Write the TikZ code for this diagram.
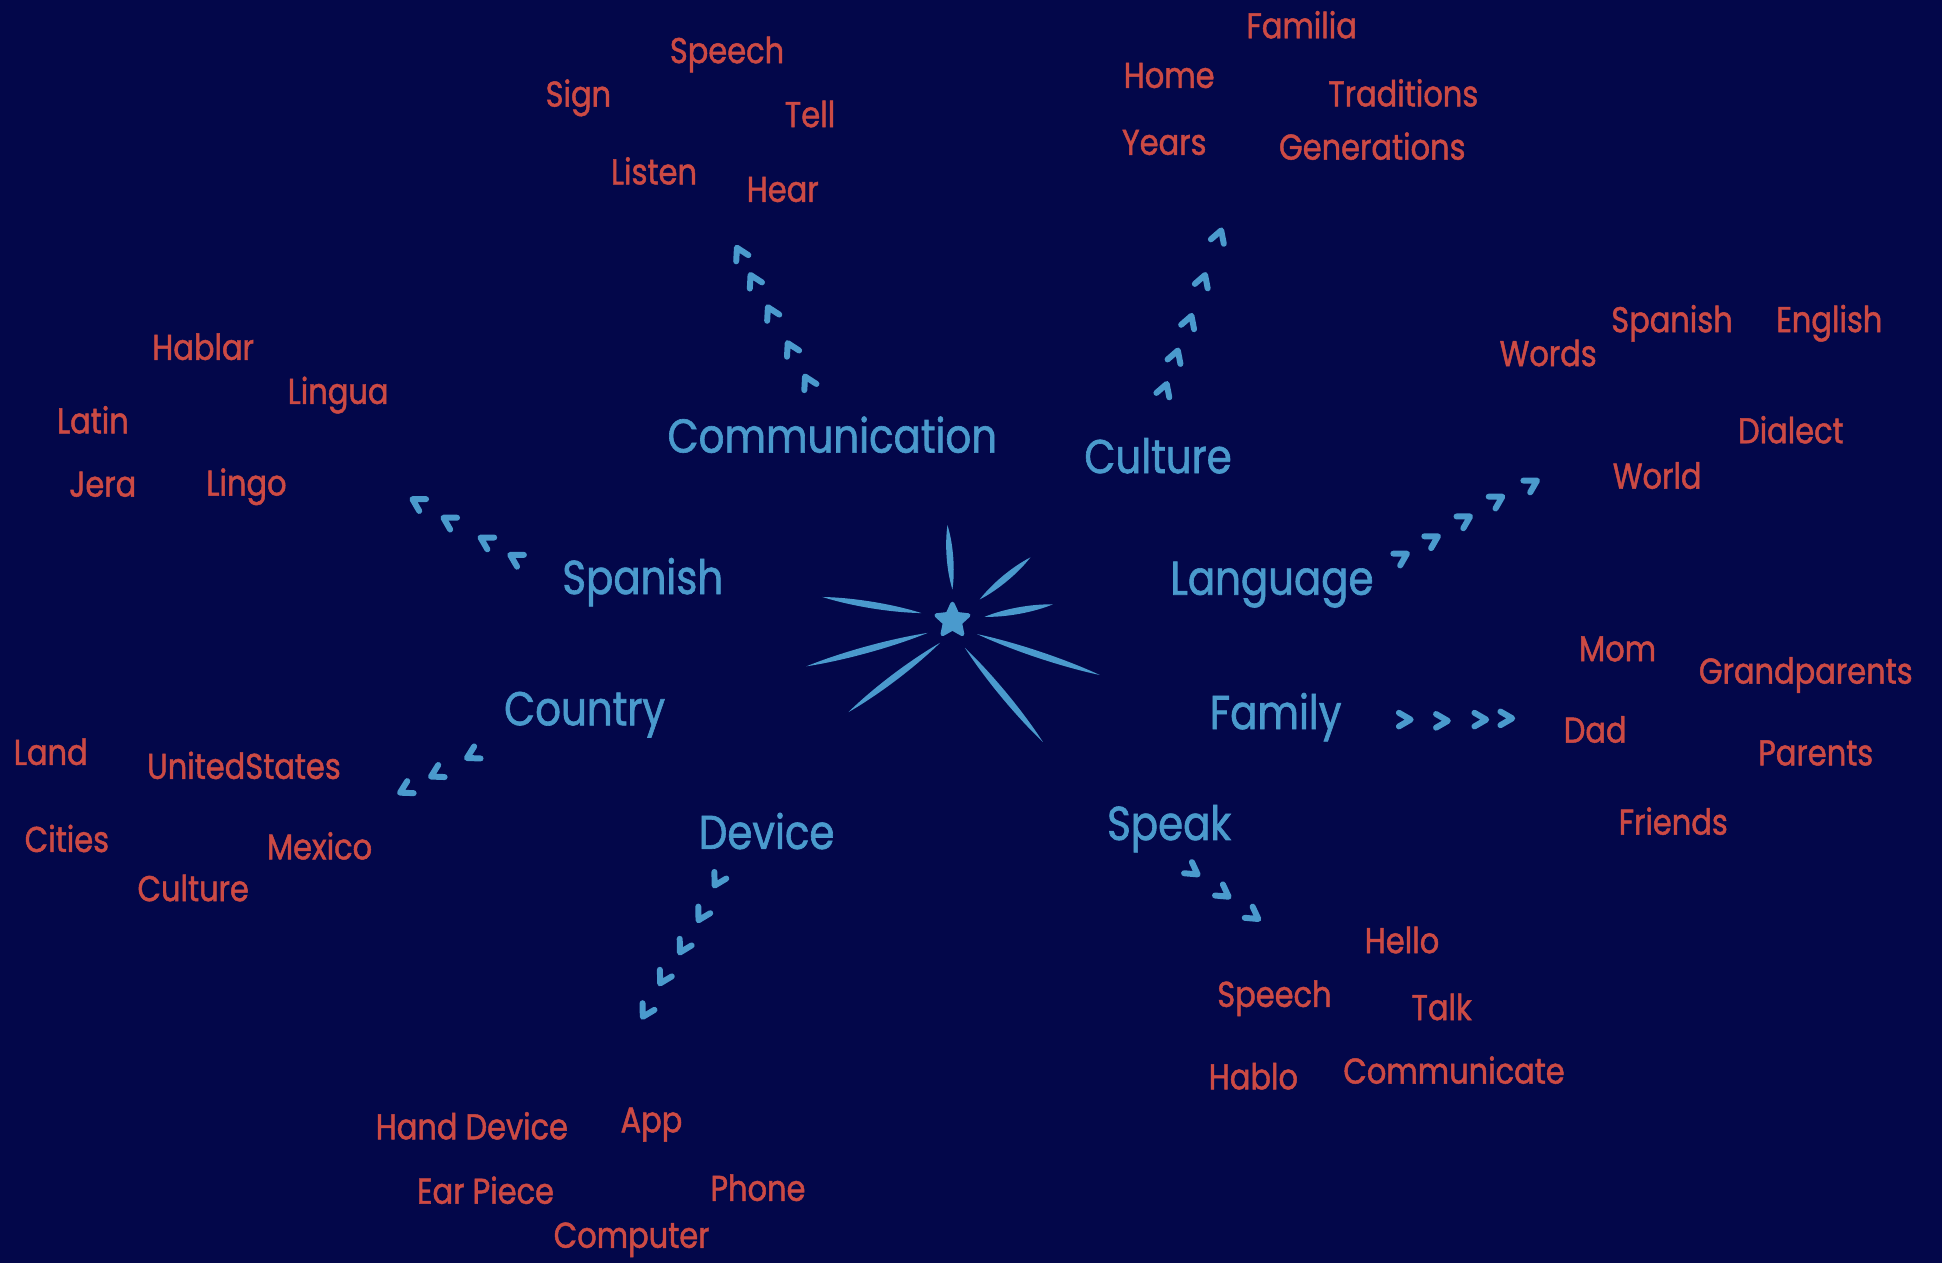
\documentclass[tikz,border=0pt]{standalone}
\usepackage{fontspec}
\setmainfont{Poppins}[FakeStretch=0.85,FakeBold=1.3]
\usetikzlibrary{shapes.geometric,calc}
\definecolor{bg}{HTML}{03074A}
\definecolor{mblue}{HTML}{4A9ACD}
\definecolor{mred}{HTML}{CC4A44}
\newcommand\chev[3]{\draw[chevline] (#1,#2) ++({#3+150}:11) -- (#1,#2) -- ++({#3-150}:11);}
\newcommand\ray[4]{\fill[mblue] (#1,#2) .. controls ($(#1,#2)!0.3!(#3,#4)!1.25pt!90:(#3,#4)$) and ($(#1,#2)!0.7!(#3,#4)!1.25pt!90:(#3,#4)$) .. (#3,#4) .. controls ($(#1,#2)!0.7!(#3,#4)!1.25pt!-90:(#3,#4)$) and ($(#1,#2)!0.3!(#3,#4)!1.25pt!-90:(#3,#4)$) .. cycle;}
\begin{document}
\begin{tikzpicture}[x=0.12385mm,y=-0.12385mm,
  main/.style={text=mblue, font=\fontsize{13.5}{16}\selectfont, inner sep=0pt},
  leaf/.style={text=mred, font=\fontsize{10.2}{12}\selectfont, inner sep=0pt},
  chevline/.style={draw=mblue, line width=1.7pt, line cap=round, line join=round}]
\fill[bg] (0,0) rectangle (1568,1020);
\useasboundingbox (0,0) rectangle (1568,1020);

% central star and rays
\node[star, star points=5, star point ratio=2.1, fill=mblue, draw=mblue, line width=1.2pt, line join=round, minimum size=9.5pt, inner sep=0pt] (hub) at (769,501) {};
\ray{765}{424}{769}{476}
\ray{832}{450}{791}{484}
\ray{850}{488}{795}{498}
\ray{664}{482}{744}{495}
\ray{749}{511}{651}{538}
\ray{759}{519}{685}{575}
\ray{789}{512}{888}{545}
\ray{779}{523}{842}{599}

% main topics
\node[main] (comm) at (672,351) {Communication};
\node[main] (cult) at (935,368) {Culture};
\node[main] (span) at (519,470) {Spanish};
\node[main] (lang) at (1027,472) {Language};
\node[main] (ctry) at (472,577) {Country};
\node[main] (fam) at (1030,579) {Family};
\node[main] (dev) at (619,671) {Device};
\node[main] (spk) at (944,669) {Speak};

% chevron arrows
\foreach \x/\y in {595/200,606/222,620/248,636/277,650/304} {\chev{\x}{\y}{243}}
\foreach \x/\y in {986/186,973/222,962/255,951/283,942/310} {\chev{\x}{\y}{289}}
\foreach \x/\y in {333/403,358/418,388/434,412/448} {\chev{\x}{\y}{210}}
\foreach \x/\y in {1241/388,1213/401,1187/417,1161/433,1136/447} {\chev{\x}{\y}{330}}
\foreach \x/\y in {1139/581,1169/582,1200/581,1221/580} {\chev{\x}{\y}{0}}
\foreach \x/\y in {323/640,348/627,377/612} {\chev{\x}{\y}{152}}
\foreach \x/\y in {577/715,564/743,549/769,533/794,519/821} {\chev{\x}{\y}{119}}
\foreach \x/\y in {967/706,992/724,1016/742} {\chev{\x}{\y}{35}}

% communication group
\node[leaf] (c1) at (587,44) {Speech};
\node[leaf] (c2) at (467,79) {Sign};
\node[leaf] (c3) at (654,92) {Tell};
\node[leaf] (c4) at (528,138) {Listen};
\node[leaf] (c5) at (632,153) {Hear};
% culture group
\node[leaf] (u1) at (1051,20) {Familia};
\node[leaf] (u2) at (944,61) {Home};
\node[leaf] (u3) at (1133,75) {Traditions};
\node[leaf] (u4) at (940,115) {Years};
\node[leaf] (u5) at (1108,118) {Generations};
% language group
\node[leaf] (l1) at (1250,285) {Words};
\node[leaf] (l2) at (1350,261) {Spanish};
\node[leaf] (l3) at (1477,261) {English};
\node[leaf] (l4) at (1446,347) {Dialect};
\node[leaf] (l5) at (1338,384) {World};
% spanish group
\node[leaf] (s1) at (164,280) {Hablar};
\node[leaf] (s2) at (273,319) {Lingua};
\node[leaf] (s3) at (75,339) {Latin};
\node[leaf] (s4) at (83,391) {Jera};
\node[leaf] (s5) at (199,393) {Lingo};
% country group
\node[leaf] (k1) at (41,607) {Land};
\node[leaf] (k2) at (197,618) {UnitedStates};
\node[leaf] (k3) at (54,677) {Cities};
\node[leaf] (k4) at (258,683) {Mexico};
\node[leaf] (k5) at (156,717) {Culture};
% family group
\node[leaf] (f1) at (1306,524) {Mom};
\node[leaf] (f2) at (1458,545) {Grandparents};
\node[leaf] (f3) at (1288,589) {Dad};
\node[leaf] (f4) at (1466,608) {Parents};
\node[leaf] (f5) at (1351,663) {Friends};
% speak group
\node[leaf] (p1) at (1132,759) {Hello};
\node[leaf] (p2) at (1029,806) {Speech};
\node[leaf] (p3) at (1164,813) {Talk};
\node[leaf] (p4) at (1012,869) {Hablo};
\node[leaf] (p5) at (1174,864) {Communicate};
% device group
\node[leaf] (d1) at (381,909) {Hand Device};
\node[leaf] (d2) at (526,908) {App};
\node[leaf] (d3) at (392,961) {Ear Piece};
\node[leaf] (d4) at (612,959) {Phone};
\node[leaf] (d5) at (510,1001) {Computer};
\end{tikzpicture}
\end{document}
